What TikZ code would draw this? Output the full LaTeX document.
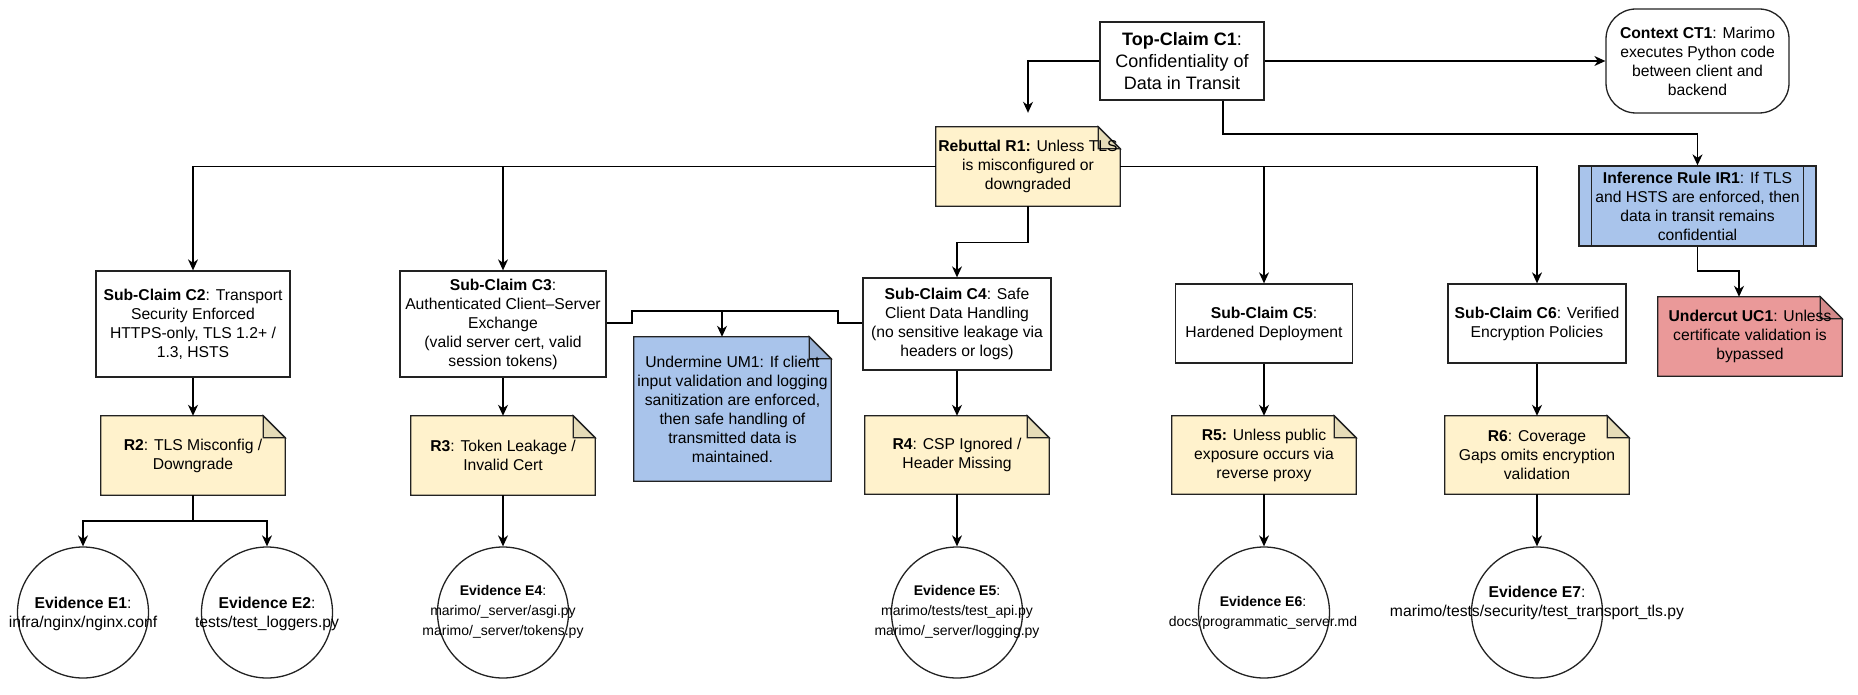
\documentclass[tikz,border=0pt]{standalone}
\usepackage{fontspec}
\setmainfont{Liberation Sans}
\usetikzlibrary{arrows.meta,calc,backgrounds}
\definecolor{noteyellow}{HTML}{FFF2CC}
\definecolor{foldyellow}{HTML}{E6DCB8}
\definecolor{noteblue}{HTML}{A9C4EB}
\definecolor{foldblue}{HTML}{98B0D4}
\definecolor{notered}{HTML}{EA9999}
\definecolor{foldred}{HTML}{D38A8A}
\definecolor{linecol}{HTML}{222222}
\newcommand\notebg[3]{%
  \filldraw[fill=#2, draw=linecol, line width=1.3pt, line join=miter]
    (#1.north west) -- ([xshift=-22pt]#1.north east) -- ([yshift=-22pt]#1.north east)
    -- (#1.south east) -- (#1.south west) -- cycle;
  \filldraw[fill=#3, draw=linecol, line width=1.3pt, line join=miter]
    ([xshift=-22pt]#1.north east) -- ([xshift=-22pt,yshift=-22pt]#1.north east)
    -- ([yshift=-22pt]#1.north east) -- cycle;}
\begin{document}
\begin{tikzpicture}[x=1pt,y=-1pt,
  txt/.style={font=\fontsize{15.7pt}{19pt}\selectfont, align=center, inner sep=0pt},
  smalltxt/.style={font=\fontsize{14pt}{20pt}\selectfont, align=center, inner sep=0pt},
  box/.style={txt, draw=linecol, line width=1.3pt, fill=white},
  notet/.style={txt},
  evid/.style={draw=linecol, line width=1.3pt, circle, minimum size=131pt, inner sep=0pt},
  arr/.style={draw=black, line width=1.3pt, -{Stealth[length=11pt,width=10pt,inset=3.5pt]}},
  con/.style={draw=black, line width=1.3pt},
]
\useasboundingbox (0,0) rectangle (1858,695);

% top level
\node[box, font=\fontsize{18pt}{21.7pt}\selectfont, minimum width=164pt, minimum height=78pt] (c1) at (1182,61)
  {\textbf{Top-Claim C1}:\\Confidentiality of\\Data in Transit};
\node[box, rounded corners=30pt, minimum width=183pt, minimum height=104pt] (ct1) at (1697.5,61)
  {\textbf{Context CT1}: Marimo\\executes Python code\\between client and\\backend};
\node[notet, minimum width=184pt, minimum height=79pt] (r1) at (1028,166.5)
  {\textbf{Rebuttal R1:} Unless TLS\\is misconfigured or\\downgraded};
\node[box, fill=noteblue, minimum width=237pt, minimum height=80pt] (ir1) at (1697.5,206)
  {\textbf{Inference Rule IR1}: If TLS\\and HSTS are enforced, then\\data in transit remains\\confidential};
\node[notet, minimum width=184pt, minimum height=79pt] (uc1) at (1750,336.5)
  {\textbf{Undercut UC1}: Unless\\certificate validation is\\bypassed};

% sub-claims
\node[box, minimum width=194pt, minimum height=106pt] (c2) at (193,324)
  {\textbf{Sub-Claim C2}: Transport\\Security Enforced\\HTTPS-only, TLS 1.2+ /\\1.3, HSTS};
\node[box, minimum width=206pt, minimum height=106pt] (c3) at (503,324)
  {\textbf{Sub-Claim C3}:\\Authenticated Client–Server\\Exchange\\(valid server cert, valid\\session tokens)};
\node[box, minimum width=188pt, minimum height=92pt] (c4) at (957,324)
  {\textbf{Sub-Claim C4}: Safe\\Client Data Handling\\(no sensitive leakage via\\headers or logs)};
\node[box, minimum width=177pt, minimum height=79pt] (c5) at (1264,323.5)
  {\textbf{Sub-Claim C5}:\\Hardened Deployment};
\node[box, minimum width=178pt, minimum height=79pt] (c6) at (1537,323.5)
  {\textbf{Sub-Claim C6}: Verified\\Encryption Policies};
\node[notet, minimum width=197pt, minimum height=144pt] (um1) at (732.5,409)
  {Undermine UM1: If client\\input validation and logging\\sanitization are enforced,\\then safe handling of\\transmitted data is\\maintained.};

% rebuttals
\node[notet, minimum width=184pt, minimum height=79pt] (r2) at (193,455.5)
  {\textbf{R2}: TLS Misconfig /\\Downgrade};
\node[notet, minimum width=184pt, minimum height=79pt] (r3) at (503,455.5)
  {\textbf{R3}: Token Leakage /\\Invalid Cert};
\node[notet, minimum width=184pt, minimum height=78pt] (r4) at (957,455)
  {\textbf{R4}: CSP Ignored /\\Header Missing};
\node[notet, minimum width=184pt, minimum height=78pt] (r5) at (1264,455)
  {\textbf{R5:} Unless public\\exposure occurs via\\reverse proxy};
\node[notet, minimum width=184pt, minimum height=78pt] (r6) at (1537,455)
  {\textbf{R6}: Coverage\\Gaps omits encryption\\validation};

% evidence
\node[evid] (e1) at (83,612.5) {};
\node[evid] (e2) at (267,612.5) {};
\node[evid] (e4) at (503,612.5) {};
\node[evid] (e5) at (957,612.5) {};
\node[evid] (e6) at (1264,612.5) {};
\node[evid] (e7) at (1537,612.5) {};
\node[txt] (e1t) at (83,613.5) {\textbf{Evidence E1}:\\infra/nginx/nginx.conf};
\node[txt] (e2t) at (267,613.5) {\textbf{Evidence E2}:\\tests/test\_loggers.py};
\node[smalltxt] (e4t) at (503,612) {\textbf{Evidence E4}:\\marimo/\_server/asgi.py\\marimo/\_server/tokens.py};
\node[smalltxt] (e5t) at (957,612) {\textbf{Evidence E5}:\\marimo/tests/test\_api.py\\marimo/\_server/logging.py};
\node[smalltxt] (e6t) at (1263,613) {\textbf{Evidence E6}:\\docs/programmatic\_server.md};
\node[txt] (e7t) at (1537,603) {\textbf{Evidence E7}:\\marimo/tests/security/test\_transport\_tls.py};

% note backgrounds
\begin{scope}[on background layer]
  \notebg{r1}{noteyellow}{foldyellow}
  \notebg{uc1}{notered}{foldred}
  \notebg{um1}{noteblue}{foldblue}
  \notebg{r2}{noteyellow}{foldyellow}
  \notebg{r3}{noteyellow}{foldyellow}
  \notebg{r4}{noteyellow}{foldyellow}
  \notebg{r5}{noteyellow}{foldyellow}
  \notebg{r6}{noteyellow}{foldyellow}
\end{scope}
% process bars of IR1
\draw[linecol, line width=1.3pt] ([xshift=13pt]ir1.north west) -- ([xshift=13pt]ir1.south west);
\draw[linecol, line width=1.3pt] ([xshift=-13pt]ir1.north east) -- ([xshift=-13pt]ir1.south east);

% connectors
\draw[arr] (c1.east) -- (ct1.west);
\draw[arr] (c1.west) -| ([yshift=14pt]r1.north);
\coordinate (j1) at (1223,134);
\draw[arr] (j1 |- c1.south) -- (j1) -| (ir1.north);
\coordinate (j2) at (1697.5,271);
\draw[arr] (ir1.south) -- (j2) -| ([xshift=-11pt]uc1.north);
\draw[arr] (r1.west) -| (c2.north);
\draw[arr] (r1.west) -| (c3.north);
\draw[arr] (r1.east) -| (c5.north);
\draw[arr] (r1.east) -| (c6.north);
\draw[arr] (r1.south) -- ++(0,36) -| (c4.north);

\coordinate (k1) at (632,323);
\coordinate (k2) at (632,311);
\coordinate (k3) at (838,311);
\coordinate (k4) at (838,323);
\coordinate (k5) at (722,311);
\draw[con] (c3.east |- k1) -- (k1) -- (k2) -- (k3) -- (k4) -- (c4.west |- k4);
\draw[arr] (k5) -- (k5 |- um1.north);

\draw[arr] (c2.south) -- (r2.north);
\draw[arr] (c3.south) -- (r3.north);
\draw[arr] (c4.south) -- (r4.north);
\draw[arr] (c5.south) -- (r5.north);
\draw[arr] (c6.south) -- (r6.north);

\coordinate (j4) at (193,521);
\draw[arr] (r2.south) -- (j4) -| (e1.north);
\draw[arr] (j4) -| (e2.north);
\draw[arr] (r3.south) -- (e4.north);
\draw[arr] (r4.south) -- (e5.north);
\draw[arr] (r5.south) -- (e6.north);
\draw[arr] (r6.south) -- (e7.north);
\end{tikzpicture}
\end{document}
